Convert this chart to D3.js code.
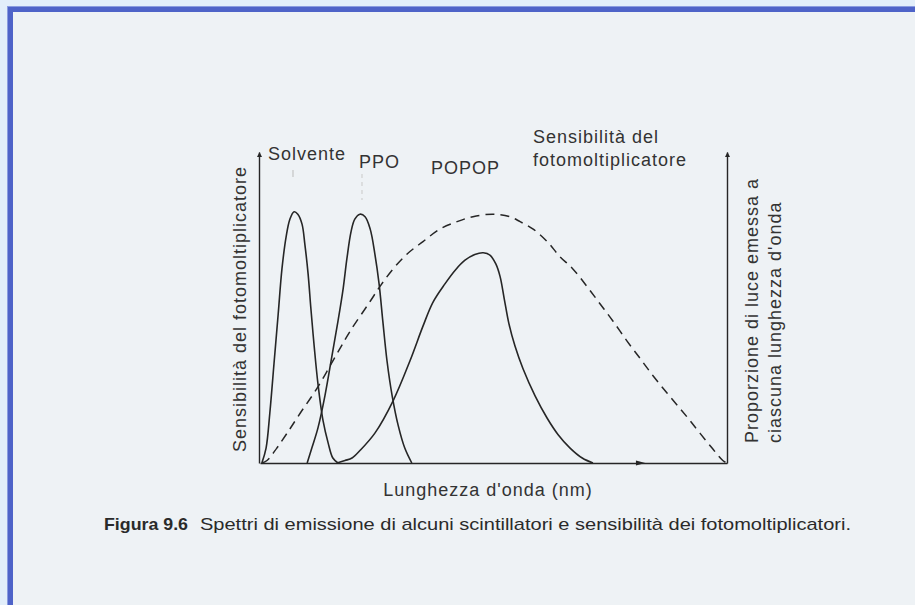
<!DOCTYPE html>
<html lang="it">
<head>
    <meta charset="UTF-8">
    <title>Spettri di emissione</title>
    <script src="https://d3js.org/d3.v7.min.js"></script>
    <style>
        body { margin: 0; background: #e2eefa; }
        svg { display: block; }
    </style>
</head>
<body>
    <svg width="915" height="605"></svg>

    <script>
        // Curve data: [wavelength (relative units 0-100), relative intensity]
        const solvente = [
            [0.4, 0], [1.3, 0.06], [2.1, 0.2], [3.0, 0.4], [3.9, 0.6], [4.7, 0.78],
            [5.6, 0.91], [6.4, 0.98], [7.3, 1.01], [8.1, 1.0], [9.0, 0.96], [9.6, 0.88],
            [10.3, 0.76], [10.9, 0.62], [11.6, 0.47], [12.4, 0.32], [13.5, 0.17],
            [14.6, 0.08], [15.6, 0.02], [16.7, 0]
        ];
        const ppo = [
            [10.1, 0], [11.1, 0.06], [12.4, 0.14], [13.9, 0.27], [15.4, 0.43], [16.7, 0.57],
            [17.8, 0.70], [18.6, 0.82], [19.5, 0.93], [20.3, 0.98], [21.4, 1.0], [22.5, 0.99],
            [23.6, 0.94], [24.6, 0.84], [25.5, 0.72], [26.3, 0.57], [27.2, 0.41],
            [28.3, 0.27], [29.6, 0.15], [31.0, 0.06], [32.5, 0]
        ];
        const popop = [
            [16.5, 0], [18.2, 0.01], [19.7, 0.02], [21.4, 0.05], [24.6, 0.12], [28.5, 0.25],
            [32.1, 0.41], [34.9, 0.55], [37.0, 0.645], [39.6, 0.72], [41.8, 0.775], [43.9, 0.815],
            [46.0, 0.838], [47.8, 0.845], [49.3, 0.835], [50.5, 0.80], [51.4, 0.75], [52.3, 0.66],
            [53.3, 0.56], [54.6, 0.47], [56.3, 0.38], [58.9, 0.27], [61.5, 0.18],
            [63.8, 0.115], [66.4, 0.06], [69.0, 0.02], [71.3, 0]
        ];
        const sensibilita = [
            [0.4, 0], [1.5, 0.01], [3.6, 0.06], [5.8, 0.12], [8.6, 0.20], [12.2, 0.30],
            [16.5, 0.44], [19.3, 0.53], [23.6, 0.65], [25.7, 0.71], [28.5, 0.78], [31.5, 0.84],
            [34.9, 0.89], [38.5, 0.94], [42.2, 0.97], [45.6, 0.99], [49.9, 1.0], [53.5, 0.99],
            [55.7, 0.97], [58.5, 0.94], [61.5, 0.89], [64.2, 0.83], [67.0, 0.78], [70.0, 0.71],
            [72.8, 0.64], [75.6, 0.57], [78.6, 0.49], [81.4, 0.42], [84.2, 0.35], [87.2, 0.28],
            [89.9, 0.22], [92.1, 0.17], [94.2, 0.12], [96.8, 0.06], [99.1, 0.01], [100, 0]
        ];

        const peakLabels = ["Solvente", "PPO", "POPOP"];
        const sensLabel = ["Sensibilità del", "fotomoltiplicatore"];
        const yLabelLeft = "Sensibilità del fotomoltiplicatore";
        const yLabelRight = ["Proporzione di luce emessa a", "ciascuna lunghezza d'onda"];
        const xLabel = "Lunghezza d'onda (nm)";
        const captionBold = "Figura 9.6";
        const captionText = "Spettri di emissione di alcuni scintillatori e sensibilità dei fotomoltiplicatori.";

        const svg = d3.select("svg");
        const ink = "#262626";
        const font = "'Liberation Sans', Arial, sans-serif";

        // page frame
        svg.append("rect").attr("width", 915).attr("height", 605).attr("fill", "#e2eefa");
        svg.append("rect").attr("x", 7).attr("y", 6).attr("width", 908).attr("height", 599).attr("fill", "#4e63c8");
        svg.append("rect").attr("x", 13).attr("y", 12).attr("width", 902).attr("height", 593).attr("fill", "#eef2f5");
        svg.append("line").attr("x1", 7.5).attr("y1", 6).attr("x2", 7.5).attr("y2", 605).attr("stroke", "#8a9ce0");
        svg.append("line").attr("x1", 7).attr("y1", 6.5).attr("x2", 915).attr("y2", 6.5).attr("stroke", "#8a9ce0");

        // scales
        const x = d3.scaleLinear().domain([0, 100]).range([260, 727]);
        const y = d3.scaleLinear().domain([0, 1.25]).range([463, 152]);

        // arrowhead marker
        svg.append("defs").append("marker")
            .attr("id", "arrow")
            .attr("viewBox", "0 0 10 10")
            .attr("refX", 9).attr("refY", 5)
            .attr("markerWidth", 5).attr("markerHeight", 6)
            .attr("markerUnits", "userSpaceOnUse")
            .attr("orient", "auto")
            .append("path")
            .attr("d", "M0,0L10,5L0,10Z")
            .attr("fill", ink);

        // axes
        const gl = svg.append("g").attr("transform", `translate(${x(0) - 1},0)`)
            .call(d3.axisLeft(y).ticks(0).tickSizeOuter(0));
        const gr = svg.append("g").attr("transform", `translate(${x(100)},0)`)
            .call(d3.axisRight(y).ticks(0).tickSizeOuter(0));
        const gb = svg.append("g").attr("transform", `translate(0,${y(0)})`)
            .call(d3.axisBottom(x).ticks(0).tickSizeOuter(0));
        [gl, gr].forEach(g => g.select(".domain")
            .attr("stroke", ink).attr("stroke-width", 1.4).attr("marker-end", "url(#arrow)"));
        gb.select(".domain").attr("stroke", ink).attr("stroke-width", 1.4);

        // small arrow on the wavelength axis
        svg.append("path")
            .attr("d", `M${x(80.5)},${y(0) - 2.5}L${x(82.5)},${y(0)}L${x(80.5)},${y(0) + 2.5}Z`)
            .attr("fill", ink);

        // curves
        const line = d3.line()
            .x(d => x(d[0]))
            .y(d => Math.min(y(d[1]), y(0)))
            .curve(d3.curveCatmullRom.alpha(0.5));

        [solvente, ppo, popop].forEach(data => {
            svg.append("path")
                .datum(data)
                .attr("fill", "none")
                .attr("stroke", ink)
                .attr("stroke-width", 1.6)
                .attr("stroke-linejoin", "round")
                .attr("d", line);
        });

        svg.append("path")
            .datum(sensibilita)
            .attr("fill", "none")
            .attr("stroke", ink)
            .attr("stroke-width", 1.5)
            .attr("stroke-dasharray", "9,6")
            .attr("d", line);

        // faint leader marks under peak labels
        svg.append("line").attr("x1", 293).attr("y1", 170).attr("x2", 293).attr("y2", 177)
            .attr("stroke", "#c4c4c4").attr("stroke-width", 1.2);
        svg.append("line").attr("x1", 362).attr("y1", 174).attr("x2", 362).attr("y2", 200)
            .attr("stroke", "#d0d0d0").attr("stroke-width", 1.2).attr("stroke-dasharray", "4,4");

        const text = (t, px, py, opts = {}) => {
            const el = svg.append("text")
                .attr("x", px).attr("y", py)
                .attr("fill", opts.fill || "#333")
                .style("font-family", opts.family || font)
                .style("font-size", (opts.size || 18) + "px")
                .style("letter-spacing", (opts.ls === undefined ? 1 : opts.ls) + "px")
                .text(t);
            if (opts.bold) el.style("font-weight", "bold");
            if (opts.rotate) el.attr("transform", `rotate(-90,${px},${py})`);
            if (opts.anchor) el.attr("text-anchor", opts.anchor);
            if (opts.len) el.attr("textLength", opts.len).attr("lengthAdjust", "spacingAndGlyphs");
            return el;
        };

        // peak labels
        text(peakLabels[0], 268, 160);
        text(peakLabels[1], 359, 168);
        text(peakLabels[2], 431, 174);
        text(sensLabel[0], 533, 143);
        text(sensLabel[1], 533, 166);

        // axis titles
        text(yLabelLeft, 246, 309, { rotate: true, anchor: "middle" });
        text(yLabelRight[0], 758, 443, { rotate: true });
        text(yLabelRight[1], 781, 443, { rotate: true });
        text(xLabel, 488, 496, { anchor: "middle" });

        // caption (condensed type in the original)
        text(captionBold, 104, 530, { bold: true, size: 17, ls: 0, fill: "#2a2a2a", len: 84 });
        text(captionText, 200, 530, { size: 17, ls: 0, fill: "#2a2a2a", len: 651 });
    </script>
</body>
</html>
